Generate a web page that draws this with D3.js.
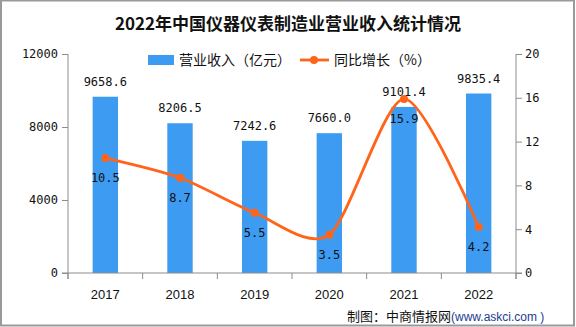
<!DOCTYPE html>
<html>
<head>
<meta charset="utf-8">
<script src="https://cdn.jsdelivr.net/npm/d3@7"></script>
<style>
  body { margin: 0; background: #fff; }
  svg { display: block; }
</style>
</head>
<body>
<div id="chart"></div>
<script>
const years = ["2017", "2018", "2019", "2020", "2021", "2022"];
const revenue = [9658.6, 8206.5, 7242.6, 7660.0, 9101.4, 9835.4];
const growth = [10.5, 8.7, 5.5, 3.5, 15.9, 4.2];
const leftTicks = [0, 4000, 8000, 12000];
const rightTicks = [0, 4, 8, 12, 16, 20];

const W = 576, H = 327;
const margin = { top: 54, right: 60, bottom: 54, left: 68 };
const innerW = W - margin.left - margin.right;
const innerH = H - margin.top - margin.bottom;

const monoFont = "'DejaVu Sans Mono', monospace";
const cjkFont = "'Noto Sans CJK SC', sans-serif";
const axisColor = "#8c8c8c";
const barColor = "#3d9cf2";
const lineColor = "#ff6419";

const svg = d3.select("#chart")
  .append("svg")
  .attr("width", W)
  .attr("height", H);

// outer frame
svg.append("rect")
  .attr("x", 1).attr("y", 0.5)
  .attr("width", W - 3).attr("height", H - 2)
  .attr("fill", "none")
  .attr("stroke", "#9a9a9a")
  .attr("stroke-width", 2);

svg.append("text")
  .attr("x", W / 2).attr("y", 30)
  .attr("text-anchor", "middle")
  .style("font-family", cjkFont)
  .style("font-weight", "bold")
  .style("font-size", "17px")
  .attr("fill", "#111")
  .text("2022年中国仪器仪表制造业营业收入统计情况");

const g = svg.append("g")
  .attr("transform", `translate(${margin.left}, ${margin.top})`);

const x = d3.scaleBand().domain(years).range([0, innerW]).paddingInner(0.66).paddingOuter(0.33);
const yL = d3.scaleLinear().domain([0, 12000]).range([innerH, 0]);
const yR = d3.scaleLinear().domain([0, 20]).range([innerH, 0]);

// bars
g.selectAll(".bar")
  .data(revenue)
  .enter()
  .append("rect")
  .attr("class", "bar")
  .attr("x", (d, i) => x(years[i]))
  .attr("y", d => yL(d))
  .attr("width", x.bandwidth())
  .attr("height", d => innerH - yL(d))
  .attr("fill", barColor);

g.selectAll(".barLabel")
  .data(revenue)
  .enter()
  .append("text")
  .attr("x", (d, i) => x(years[i]) + x.bandwidth() / 2)
  .attr("y", d => yL(d) - 11)
  .attr("text-anchor", "middle")
  .style("font-family", monoFont)
  .style("font-size", "12px")
  .attr("fill", "#111")
  .text(d => d.toFixed(1));

// left axis
const leftAxis = g.append("g")
  .call(d3.axisLeft(yL).tickValues(leftTicks).tickFormat(d3.format("d"))
    .tickSize(6).tickPadding(4).tickSizeOuter(0));
leftAxis.select(".domain").attr("stroke", axisColor).attr("d", `M0,0V${innerH + 6}`);

// right axis
const rightAxis = g.append("g")
  .attr("transform", `translate(${innerW}, 0)`)
  .call(d3.axisRight(yR).tickValues(rightTicks).tickFormat(d3.format("d"))
    .tickSize(6).tickPadding(3).tickSizeOuter(0));
rightAxis.select(".domain").attr("stroke", axisColor).attr("d", `M0,0V${innerH + 6}`);

// bottom axis with ticks at category boundaries
const bottomAxis = g.append("g")
  .attr("transform", `translate(0, ${innerH})`);
bottomAxis.append("line")
  .attr("x1", -6).attr("x2", innerW + 6)
  .attr("stroke", axisColor);
const step = x.step();
const bounds = d3.range(years.length + 1).map(i => x(years[0]) - step * x.paddingOuter() + i * step);
bottomAxis.selectAll(".catTick")
  .data(bounds)
  .enter()
  .append("line")
  .attr("x1", d => d).attr("x2", d => d)
  .attr("y1", 0).attr("y2", 6)
  .attr("stroke", axisColor);
bottomAxis.selectAll(".catLabel")
  .data(years)
  .enter()
  .append("text")
  .attr("x", d => x(d) + x.bandwidth() / 2)
  .attr("y", 26)
  .attr("text-anchor", "middle")
  .style("font-family", "'Liberation Sans', Arial, sans-serif")
  .style("font-size", "13px")
  .attr("fill", "#111")
  .text(d => d);

[leftAxis, rightAxis].forEach(a => {
  a.selectAll(".tick line").attr("stroke", axisColor);
  a.selectAll(".tick text")
    .style("font-family", monoFont)
    .style("font-size", "12px")
    .attr("fill", "#111");
});

// growth line
const line = d3.line()
  .x((d, i) => x(years[i]) + x.bandwidth() / 2)
  .y(d => yR(d))
  .curve(d3.curveCardinal.tension(0.2));

g.append("path")
  .datum(growth)
  .attr("fill", "none")
  .attr("stroke", lineColor)
  .attr("stroke-width", 2.8)
  .attr("d", line);

g.selectAll(".dot")
  .data(growth)
  .enter()
  .append("circle")
  .attr("cx", (d, i) => x(years[i]) + x.bandwidth() / 2)
  .attr("cy", d => yR(d))
  .attr("r", 4)
  .attr("fill", lineColor);

g.selectAll(".growthLabel")
  .data(growth)
  .enter()
  .append("text")
  .attr("x", (d, i) => x(years[i]) + x.bandwidth() / 2)
  .attr("y", d => yR(d) + 24)
  .attr("text-anchor", "middle")
  .style("font-family", monoFont)
  .style("font-size", "12px")
  .attr("fill", "#111")
  .text(d => d.toFixed(1));

// legend
const legend = svg.append("g");
legend.append("rect")
  .attr("x", 148).attr("y", 55)
  .attr("width", 26).attr("height", 10)
  .attr("fill", barColor);
legend.append("text")
  .attr("x", 179).attr("y", 65)
  .style("font-family", cjkFont)
  .style("font-size", "14px")
  .attr("fill", "#111")
  .text("营业收入（亿元）");
legend.append("line")
  .attr("x1", 300).attr("x2", 329)
  .attr("y1", 60).attr("y2", 60)
  .attr("stroke", lineColor)
  .attr("stroke-width", 2.8);
legend.append("circle")
  .attr("cx", 314).attr("cy", 60).attr("r", 4)
  .attr("fill", lineColor);
legend.append("text")
  .attr("x", 334).attr("y", 65)
  .style("font-family", cjkFont)
  .style("font-size", "14px")
  .attr("fill", "#111")
  .text("同比增长（%）");

// source note
const note = svg.append("text")
  .attr("x", 347).attr("y", 321)
  .style("font-family", cjkFont)
  .style("font-size", "13px")
  .attr("fill", "#111");
note.append("tspan").text("制图：中商情报网");
note.append("tspan")
  .attr("fill", "#1d3c8f")
  .style("font-family", "'Liberation Sans', Arial, sans-serif")
  .style("font-size", "12px")
  .text("(www.askci.com )");
</script>
</body>
</html>
